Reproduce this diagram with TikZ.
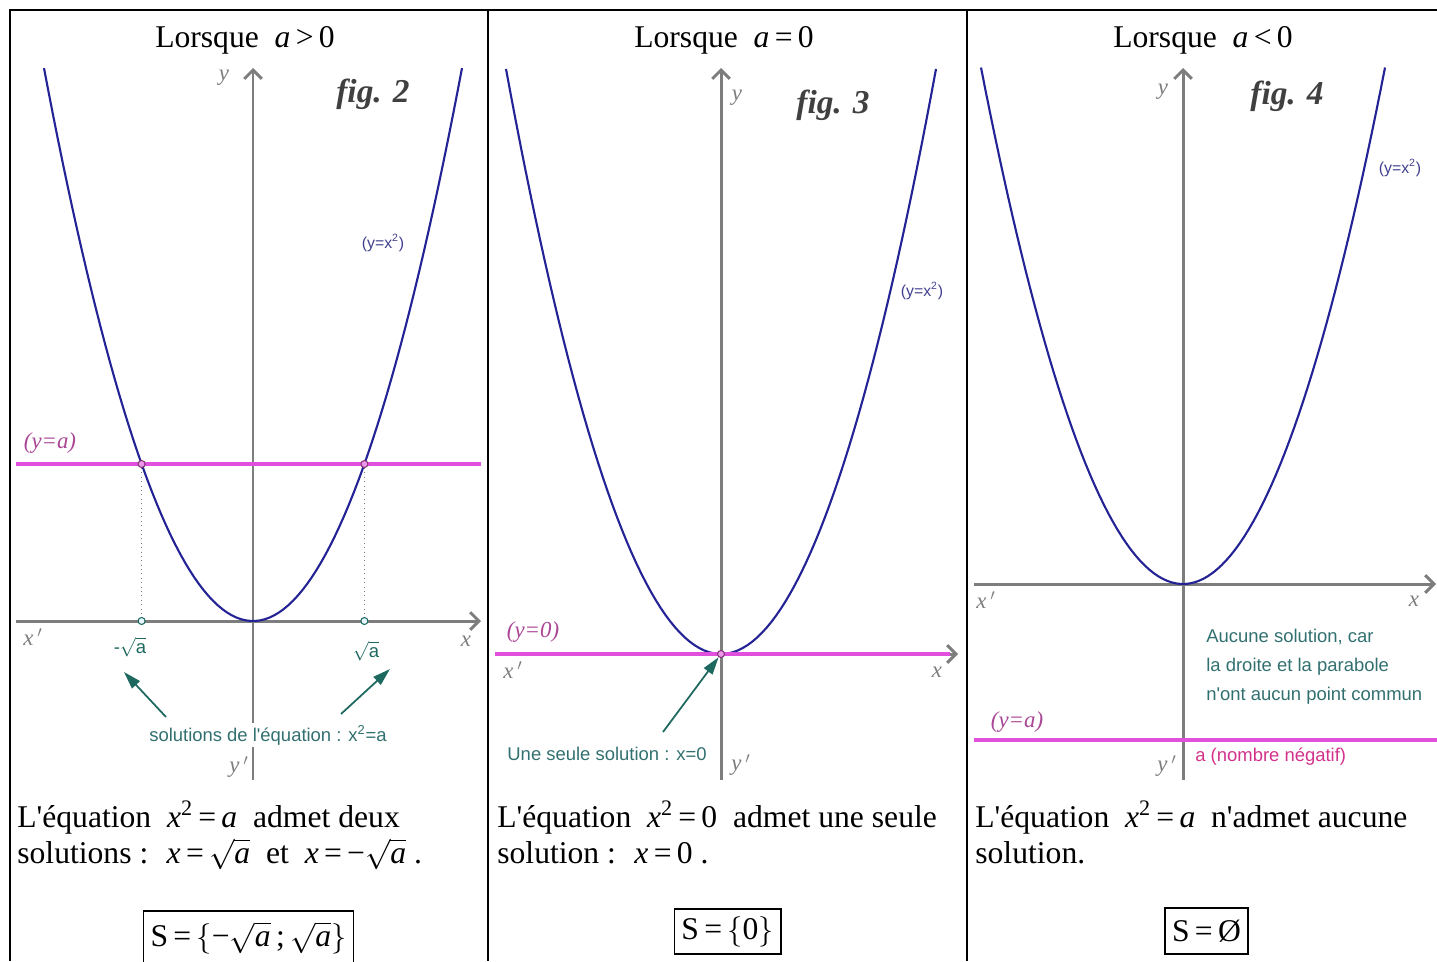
\documentclass[tikz,border=0pt]{standalone}
\usepackage{fontspec}
\setmainfont{Liberation Serif}
\setsansfont{Liberation Sans}
\usetikzlibrary{arrows.meta, positioning, calc}

\definecolor{bleuc}{RGB}{35,35,150}
\definecolor{grisaxe}{RGB}{125,125,125}
\definecolor{rose}{RGB}{225,80,220}
\definecolor{violetlab}{RGB}{170,70,150}
\definecolor{sarcelle}{RGB}{30,105,95}
\definecolor{sarcelletxt}{RGB}{50,112,112}
\definecolor{negatif}{RGB}{210,50,140}

\newcommand{\apo}{\textquotesingle}

\tikzstyle{axe}=[draw=grisaxe, line width=1.7pt, -{Straight Barb[length=5pt, width=10pt]}]
\tikzstyle{courbe}=[draw=bleuc, line width=1.2pt]
\tikzstyle{droite}=[draw=rose, line width=1.8pt]
\tikzstyle{fleche}=[draw=sarcelle, line width=1pt, -{Triangle[length=10pt, width=6pt]}]
\tikzstyle{rappel}=[draw=grisaxe, line width=0.5pt, dotted]
\tikzstyle{titre}=[font=\fontsize{18}{20}\selectfont, anchor=base, inner sep=0]
\tikzstyle{texte}=[font=\fontsize{18}{20}\selectfont, anchor=base west, inner sep=0, text height=12pt, text depth=4pt]
\tikzstyle{solbox}=[draw, line width=1pt, font=\fontsize{18}{20}\selectfont, inner xsep=4pt, minimum height=26pt]
\tikzstyle{nomaxe}=[text=grisaxe, font=\itshape\fontsize{13}{14}\selectfont, inner sep=0]
\tikzstyle{numfig}=[text=black!75, font=\bfseries\itshape\fontsize{19}{20}\selectfont, inner sep=0]
\tikzstyle{eqcourbe}=[text=bleuc!70!gray, font=\sffamily\fontsize{9}{10}\selectfont, inner sep=0]
\tikzstyle{eqdroite}=[text=violetlab, font=\itshape\fontsize{13}{14}\selectfont, inner sep=0]
\tikzstyle{legende}=[text=sarcelletxt, font=\sffamily\fontsize{10.5}{16.4}\selectfont, inner sep=0]
\tikzstyle{ptrose}=[circle, draw=violetlab!80!black, fill=rose!60, line width=0.6pt, inner sep=0, minimum size=4pt]
\tikzstyle{ptsar}=[circle, draw=sarcelle, fill=cyan!10, line width=0.6pt, inner sep=0, minimum size=4pt]

\begin{document}
\begin{tikzpicture}[x=0.2mm, y=-0.2mm]
    \useasboundingbox (0,0) rectangle (1437,961) ;
    % tableau
    \draw[line width=1pt] (10,961) -- (10,10) -- (1437,10) ;
    \draw[line width=1pt] (488,10) -- (488,961) ;
    \draw[line width=1pt] (967,10) -- (967,961) ;
    \node[titre] (t1) at (245,47) {Lorsque \ \textit{a}\,>\,0} ;
    \node[titre] (t2) at (724,47) {Lorsque \ \textit{a}\,=\,0} ;
    \node[titre] (t3) at (1203,47) {Lorsque \ \textit{a}\,<\,0} ;

    % fig. 2 : a > 0
    \draw[axe] (253,780) -- (253,68) ;
    \draw[axe] (16,621) -- (481,621) ;
    \draw[courbe] plot[domain=-209:209, samples=90] ({253+\x}, {621-(0.1125*\x)^2}) ;
    \draw[droite] (16,464) -- (481,464) ;
    \node[ptrose] (A) at (141.6,464) {} ;
    \node[ptrose] (B) at (364.4,464) {} ;
    \node[ptsar] (A0) at (141.6,621) {} ;
    \node[ptsar] (B0) at (364.4,621) {} ;
    \draw[rappel] (A) -- (A0) ;
    \draw[rappel] (B) -- (B0) ;
    \node[nomaxe] at (224,78) {y} ;
    \node[nomaxe] at (239,767) {y\,$'$} ;
    \node[nomaxe] at (33,637) {x\,$'$} ;
    \node[nomaxe] at (466,641) {x} ;
    \node[numfig] at (373,94) {fig. 2} ;
    \node[eqcourbe] at (383,243) {(y=x\textsuperscript{2})} ;
    \node[eqdroite] at (50,443) {(y=a)} ;
    \node[legende, text=sarcelle] at (130,647) {-$\sqrt{\textsf{a}}$} ;
    \node[legende, text=sarcelle] at (366,651) {$\sqrt{\textsf{a}}$} ;
    \node[legende, fill=white, inner sep=1pt] (sol1) at (268,735) {solutions de l\apo équation : x\textsuperscript{2}=a} ;
    \coordinate (f1a) at (166,717) ;
    \coordinate (f1b) at (341,714) ;
    \draw[fleche] (f1a) -- (124,672) ;
    \draw[fleche] (f1b) -- (390,669) ;
    \node[texte] (d1a) at (17,827) {L\apo équation \ \textit{x}\textsuperscript{2}\,=\,\textit{a} \ admet deux} ;
    \node[texte] (d1b) at (17,863) {solutions : \ \textit{x}\,=\,$\sqrt{\textit{a}}$ \ et \ \textit{x}\,=\,−$\sqrt{\textit{a}}$ .} ;
    \node[solbox, minimum height=31pt, anchor=north] (S1) at (248.5,910) {S\,=\,$\Bigl\{$−$\sqrt{\textit{a}}$\,;\,$\sqrt{\textit{a}}\Bigr\}$} ;

    % fig. 3 : a = 0
    \draw[axe] (721,780) -- (721,68) ;
    \draw[axe] (495,654) -- (958,654) ;
    \draw[courbe] plot[domain=-215:215, samples=90] ({721+\x}, {654-(0.1125*\x)^2}) ;
    \draw[droite] (495,654) -- (950,654) ;
    \node[ptrose] (O) at (721,654) {} ;
    \node[nomaxe] at (737,98) {y} ;
    \node[nomaxe] at (741,765) {y\,$'$} ;
    \node[nomaxe] at (513,670) {x\,$'$} ;
    \node[nomaxe] at (937,672) {x} ;
    \node[numfig] at (833,105) {fig. 3} ;
    \node[eqcourbe] at (922,291) {(y=x\textsuperscript{2})} ;
    \node[eqdroite] at (533,632) {(y=0)} ;
    \node[legende] (sol2) at (607,754) {Une seule solution : x=0} ;
    \coordinate (f2) at (663,732) ;
    \draw[fleche] (f2) -- (O) ;
    \node[texte] (d2a) at (497,827) {L\apo équation \ \textit{x}\textsuperscript{2}\,=\,0 \ admet une seule} ;
    \node[texte] (d2b) at (497,863) {solution : \ \textit{x}\,=\,0 .} ;
    \node[solbox] (S2) at (727.5,931.5) {S\,=\,$\bigl\{$0$\bigr\}$} ;

    % fig. 4 : a < 0
    \draw[axe] (1183,780) -- (1183,68) ;
    \draw[axe] (974,584) -- (1436,584) ;
    \draw[courbe] plot[domain=-202:202, samples=90] ({1183+\x}, {584-(0.1125*\x)^2}) ;
    \draw[droite] (974,740) -- (1437,740) ;
    \node[nomaxe] at (1163,92) {y} ;
    \node[nomaxe] at (1167,766) {y\,$'$} ;
    \node[nomaxe] at (986,600) {x\,$'$} ;
    \node[nomaxe] at (1414,601) {x} ;
    \node[numfig] at (1287,96) {fig. 4} ;
    \node[eqcourbe] at (1400,168) {(y=x\textsuperscript{2})} ;
    \node[eqdroite] at (1017,722) {(y=a)} ;
    \node[legende, align=left, anchor=west] (sol3) at (1206,667) {Aucune solution, car\\la droite et la parabole\\n\apo ont aucun point commun} ;
    \node[legende, text=negatif, anchor=west] (neg) at (1195,757) {a (nombre négatif)} ;
    \node[texte] (d3a) at (975,827) {L\apo équation \ \textit{x}\textsuperscript{2}\,=\,\textit{a} \ n\apo admet aucune} ;
    \node[texte] (d3b) at (975,863) {solution.} ;
    \node[solbox] (S3) at (1206.5,931) {S\,=\,Ø} ;
\end{tikzpicture}
\end{document}
